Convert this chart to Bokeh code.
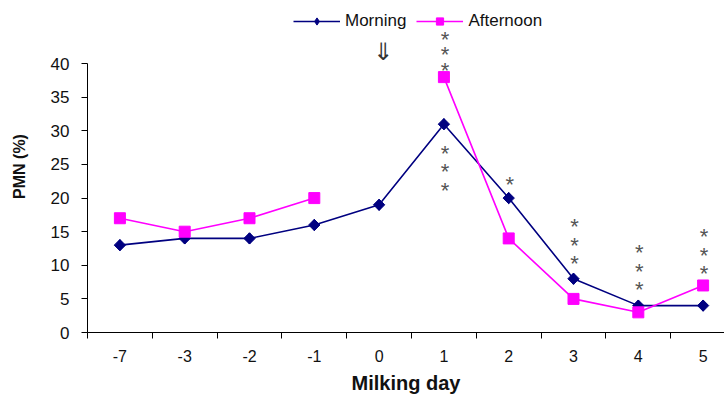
from bokeh.plotting import figure
from bokeh.models import Range1d, LinearAxis, FixedTicker, Legend, LegendItem, ColumnDataSource
from bokeh.core.properties import value
from bokeh.embed import file_html
from bokeh.resources import INLINE
import numpy as np

days = ["-7", "-3", "-2", "-1", "0", "1", "2", "3", "4", "5"]
morning = [13, 14, 14, 16, 19, 31, 20, 8, 4, 4]
afternoon = [17, 15, 17, 20, np.nan, 38, 14, 5, 3, 7]

star_days = ["1", "1", "1", "1", "1", "1", "2", "3", "3", "3", "4", "4", "4", "5", "5", "5"]
star_y = [44.3, 42.1, 39.7, 27.4, 24.7, 21.9, 22.8, 16.5, 13.7, 11.0, 12.6, 9.8, 7.1, 15.0, 12.2, 9.5]
arrow_day = "0"
arrow_y = 41.7

FONT = "Liberation Sans"
x = list(range(len(days)))
pos = {d: i for i, d in enumerate(days)}

p = figure(width=724, height=399, output_backend="svg", toolbar_location=None,
           x_range=Range1d(-0.5, 9.33), y_range=Range1d(0, 49.4),
           min_border_left=87, min_border_right=0, min_border_top=0, min_border_bottom=67,
           x_axis_type=None, y_axis_type=None)
p.outline_line_color = None
p.xgrid.visible = False
p.ygrid.visible = False
p.background_fill_color = "white"
p.border_fill_color = "white"

xaxis = LinearAxis(ticker=FixedTicker(ticks=x, minor_ticks=[i - 0.5 for i in x] + [len(x) - 0.5]),
                   major_label_overrides={i: d for i, d in enumerate(days)})
xaxis.major_tick_out = 0
xaxis.major_tick_in = 0
xaxis.minor_tick_out = 6
xaxis.minor_tick_in = 0
xaxis.axis_line_color = "black"
xaxis.minor_tick_line_color = "black"
xaxis.major_label_text_font = FONT
xaxis.major_label_text_font_size = "16px"
xaxis.major_label_text_color = "#111111"
xaxis.major_label_standoff = 11
xaxis.axis_label = "Milking day"
xaxis.axis_label_text_font = FONT
xaxis.axis_label_text_font_style = "bold"
xaxis.axis_label_text_font_size = "20px"
xaxis.axis_label_text_color = "#111111"
xaxis.axis_label_standoff = 7
p.add_layout(xaxis, "below")

yaxis = LinearAxis(ticker=FixedTicker(ticks=list(range(0, 41, 5))), bounds=(0, 40))
yaxis.major_tick_out = 6
yaxis.major_tick_in = 0
yaxis.minor_tick_out = 0
yaxis.minor_tick_in = 0
yaxis.axis_line_color = "black"
yaxis.major_label_text_font = FONT
yaxis.major_label_text_font_size = "17px"
yaxis.major_label_text_color = "#111111"
yaxis.major_label_standoff = 12
yaxis.axis_label = "PMN (%)"
yaxis.axis_label_text_font = FONT
yaxis.axis_label_text_font_style = "bold"
yaxis.axis_label_text_font_size = "16px"
yaxis.axis_label_text_color = "#111111"
yaxis.axis_label_standoff = 20
p.add_layout(yaxis, "left")

src = ColumnDataSource(dict(x=x, m=morning, a=afternoon))
lm = p.line("x", "m", source=src, line_color="#000080", line_width=1.6)
# diamond symbol used for the legend entry (drawn underneath the data markers)
lg_m = p.scatter("x", "m", source=src, marker="diamond", size=11, fill_color="#000080", line_color="#000080")
sm = p.scatter("x", "m", source=src, marker="square", angle=0.785398, size=8,
               fill_color="#000080", line_color="#000080")
la = p.line("x", "a", source=src, line_color="#FF00FF", line_width=1.6)
sa = p.scatter("x", "a", source=src, marker="square", size=11, fill_color="#FF00FF", line_color="#FF00FF")

ssrc = ColumnDataSource(dict(x=[pos[d] for d in star_days], y=star_y, t=["*"] * len(star_y)))
p.text("x", "y", text="t", source=ssrc, text_font=value(FONT), text_font_size="22px",
       text_color="#555555", text_align="center", text_baseline="middle", y_offset=5, x_offset=1)
p.text([pos[arrow_day]], [arrow_y], text=["⇓"], text_font=value("DejaVu Sans"), text_font_size="24px",
       text_color="#333333", text_align="center", text_baseline="middle", x_offset=4)

legend = Legend(items=[LegendItem(label="Morning", renderers=[lm, lg_m]),
                       LegendItem(label="Afternoon", renderers=[la, sa])],
                orientation="horizontal", location=(206, 301))
legend.glyph_width = 47
legend.glyph_height = 18
legend.label_standoff = 5
legend.spacing = 10
legend.padding = 0
legend.margin = 0
legend.border_line_color = None
legend.background_fill_alpha = 0
legend.label_text_font = FONT
legend.label_text_font_size = "17px"
legend.label_text_color = "#111111"
p.add_layout(legend, "center")

open("out.html", "w").write(file_html(p, INLINE))
